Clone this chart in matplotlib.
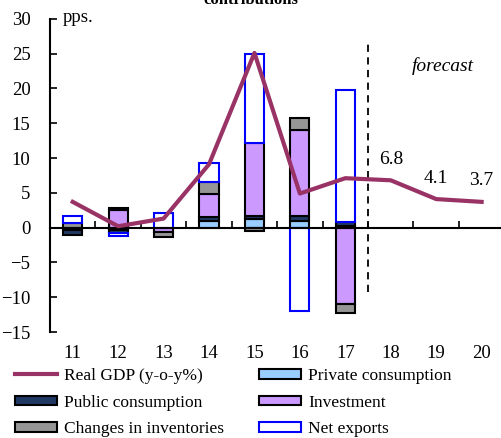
import matplotlib.pyplot as plt
import numpy as np

plt.rcParams['font.family'] = ['Liberation Serif', 'DejaVu Serif']

# Daten
years = [11, 12, 13, 14, 15, 16, 17, 18, 19, 20]
gdp = [3.7, 0.2, 1.3, 9.1, 25.1, 4.9, 7.1, 6.8, 4.1, 3.7]

bar_years = [11, 12, 13, 14, 15, 16, 17]
private_cons = [-0.4, -0.4, 0.0, 0.9, 1.3, 1.0, 0.3]
public_cons = [-0.6, -0.4, 0.0, 0.6, 0.4, 0.7, 0.5]
investment = [0.0, 2.5, -0.7, 3.4, 10.4, 12.3, -11.0]
inventories = [0.6, 0.3, -0.6, 1.6, -0.5, 1.7, -1.2]
net_exports = [1.0, -0.4, 2.1, 2.8, 12.8, -12.0, 19.0]

forecast_labels = ['6.8', '4.1', '3.7']

# Farben
col_priv = '#99ccff'
col_pub = '#1f3864'
col_inv = '#cc99ff'
col_stock = '#969696'
col_gdp = '#993366'

fig = plt.figure(figsize=(5.02, 4.38), dpi=100)
ax = fig.add_axes([0.0996, 0.242, 0.896, 0.715])

series = [
    (private_cons, col_priv, 'black', 'Private consumption'),
    (public_cons, col_pub, 'black', 'Public consumption'),
    (investment, col_inv, 'black', 'Investment'),
    (inventories, col_stock, 'black', 'Changes in inventories'),
    (net_exports, 'white', '#0000ff', 'Net exports'),
]

pos_base = np.zeros(len(bar_years))
neg_base = np.zeros(len(bar_years))
handles = {}
for vals, fc, ec, lab in series:
    v = np.array(vals, dtype=float)
    base = np.where(v >= 0, pos_base, neg_base)
    b = ax.bar(bar_years, v, 0.42, bottom=base, color=fc, edgecolor=ec,
               linewidth=1.5, zorder=2, label=lab)
    handles[lab] = b
    pos_base = pos_base + np.where(v > 0, v, 0)
    neg_base = neg_base + np.where(v < 0, v, 0)

line, = ax.plot(years, gdp, color=col_gdp, linewidth=3, zorder=4, label='Real GDP (y-o-y%)')

# Prognose-Markierung
ax.plot([17.5, 17.5], [-9.3, 26.5], color='black', linestyle=(0, (4, 3)), linewidth=1.3, zorder=3)
ax.text(19.15, 23.2, 'forecast', style='italic', fontsize=14, ha='center', va='center')
for x, y, lab in zip(years[-3:], gdp[-3:], forecast_labels):
    ax.text(x, y + 3.0, lab, fontsize=14, ha='center', va='center')

ax.text(10.78, 30.2, 'pps.', fontsize=13.5, ha='left', va='center')

# Achsen
ax.set_xlim(10.5, 20.4)
ax.set_ylim(-15, 30)
ax.set_yticks(np.arange(-15, 31, 5))
ax.tick_params(axis='y', direction='in', length=5, width=1.2, labelsize=13.5, pad=14)
ax.spines['top'].set_visible(False)
ax.spines['right'].set_visible(False)
ax.spines['left'].set_linewidth(1.5)
ax.spines['bottom'].set_position(('data', 0))
ax.spines['bottom'].set_linewidth(1.5)
ax.set_xticks(np.arange(11.5, 20, 1))
ax.tick_params(axis='x', direction='in', length=5, width=1.2, labelbottom=False)
for x in years:
    ax.text(x, -0.04, str(x), transform=ax.get_xaxis_transform(), fontsize=13.5,
            ha='center', va='top')

fig.text(0.5, 0.992, 'contributions', ha='center', va='baseline', fontsize=12, fontweight='bold')

# Legende
order = [line, handles['Public consumption'], handles['Changes in inventories'],
         handles['Private consumption'], handles['Investment'], handles['Net exports']]
labels = ['Real GDP (y-o-y%)', 'Public consumption', 'Changes in inventories',
          'Private consumption', 'Investment', 'Net exports']
fig.legend(order, labels, loc='upper left', bbox_to_anchor=(0.03, 0.16), ncol=2,
           frameon=False, fontsize=12.5, handlelength=2.4, handleheight=0.5,
           handletextpad=0.4, columnspacing=2.05, labelspacing=0.62, borderpad=0,
           borderaxespad=0)

plt.savefig('out.png', dpi=100)
plt.close()
